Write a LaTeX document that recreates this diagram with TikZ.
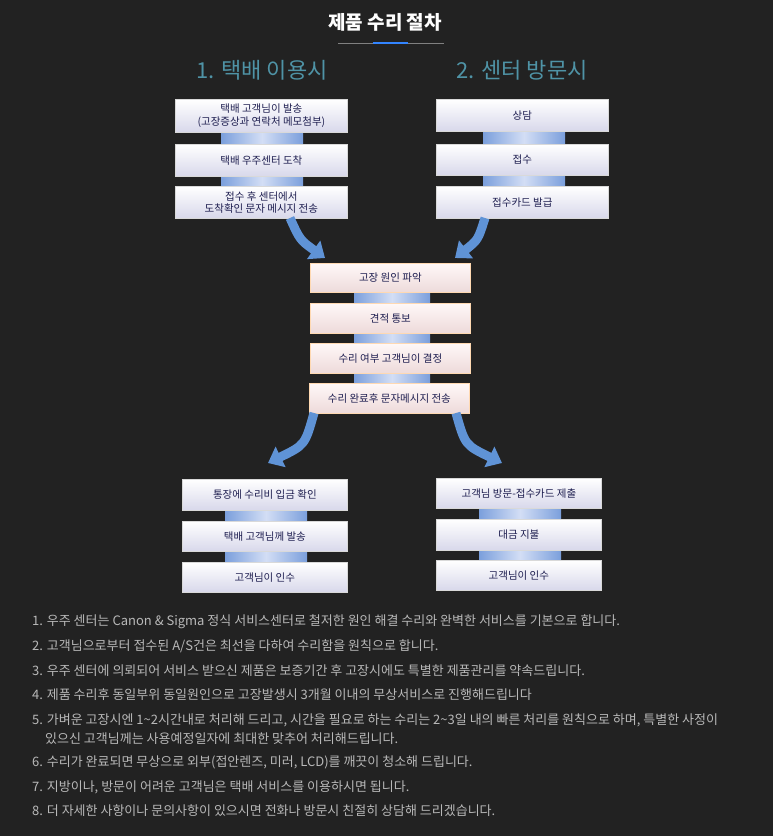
\documentclass[tikz,border=0pt]{standalone}
\usepackage{fontspec}
\setmainfont{Noto Sans CJK KR}
\usetikzlibrary{arrows.meta}
\definecolor{bg}{HTML}{222222}
\definecolor{navy}{HTML}{1E1E50}
\definecolor{sub}{HTML}{4F93A6}
\definecolor{arr}{HTML}{5F93D6}
\definecolor{note}{HTML}{B8B8B8}
\definecolor{linkd}{HTML}{7B9FDC}
\definecolor{linkl}{HTML}{D3DEF5}
\tikzset{
 stepbox/.style={draw=white!85!black, line width=0.8pt, top color=white, bottom color=blue!8!white!92!black, inner sep=0pt, anchor=north west},
 pinkbox/.style={stepbox, top color=white!97!red, bottom color=red!8!white!93!black, draw=orange!30!white},
 lbl/.style={text=navy, font=\fontsize{10.5}{12.5}\selectfont, align=center},
 link/.style={left color=linkd, right color=linkd, middle color=linkl, draw=none},
 bigarrow/.style={arr, line width=9pt, -{Triangle[width=22pt,length=14pt]}},
 note/.style={text=note, font=\fontsize{13}{15}\selectfont, anchor=west, inner sep=0pt}
}
\newcommand{\bx}[6]{\node[#1, minimum width=#4pt-#2pt, minimum height=#5pt-#3pt] (#6) at (#2,#3) {};}
\begin{document}
\begin{tikzpicture}[x=1pt,y=-1pt]
\fill[bg] (0,0) rectangle (773,836);
\node[text=white, font=\bfseries\fontsize{19}{21}\selectfont] (title) at (385,22) {제품 수리 절차};
\draw[gray, line width=1pt] (338,43) -- (444,43);
\draw[blue!60!cyan!80!white, line width=1.8pt] (373,43) -- (408,43);
\node[text=sub, font=\fontsize{22}{24}\selectfont] (s1) at (262,70) {1. 택배 이용시};
\node[text=sub, font=\fontsize{22}{24}\selectfont] (s2) at (522,70) {2. 센터 방문시};
% links
\foreach \xa/\xb/\ya/\yb in {221/303/132/144, 221/303/176/186, 483/565/131/144, 483/565/175/186,
 354/430/292/303, 354/430/333/343, 354/430/373/383, 225/307/510/521, 225/307/551/562, 479/561/508/519, 479/561/550/560}
  \shade[link] (\xa,\ya) rectangle (\xb,\yb);
% left
\bx{stepbox}{175}{99}{347}{132}{a1}
\node[lbl] at (a1.center) {택배 고객님이 발송\\(고장증상과 연락처 메모첨부)};
\bx{stepbox}{175}{144}{347}{176}{a2}
\node[lbl] at (a2.center) {택배 우주센터 도착};
\bx{stepbox}{175}{186}{347}{218}{a3}
\node[lbl] at (a3.center) {접수 후 센터에서\\도착확인 문자 메시지 전송};
% right
\bx{stepbox}{436}{99}{608}{131}{b1}
\node[lbl] at (b1.center) {상담};
\bx{stepbox}{436}{144}{608}{175}{b2}
\node[lbl] at (b2.center) {접수};
\bx{stepbox}{436}{186}{608}{218}{b3}
\node[lbl] at (b3.center) {접수카드 발급};
% center
\bx{pinkbox}{310}{263}{470}{292}{c1}
\node[lbl] at (c1.center) {고장 원인 파악};
\bx{pinkbox}{310}{303}{470}{333}{c2}
\node[lbl] at (c2.center) {견적 통보};
\bx{pinkbox}{310}{343}{470}{373}{c3}
\node[lbl] at (c3.center) {수리 여부 고객님이 결정};
\bx{pinkbox}{309}{383}{469}{413}{c4}
\node[lbl] at (c4.center) {수리 완료후 문자메시지 전송};
% bottom left
\bx{stepbox}{182}{479}{347}{510}{d1}
\node[lbl] at (d1.center) {통장에 수리비 입금 확인};
\bx{stepbox}{182}{521}{347}{551}{d2}
\node[lbl] at (d2.center) {택배 고객님께 발송};
\bx{stepbox}{182}{562}{347}{592}{d3}
\node[lbl] at (d3.center) {고객님이 인수};
% bottom right
\bx{stepbox}{436}{478}{601}{508}{e1}
\node[lbl] at (e1.center) {고객님 방문-접수카드 제출};
\bx{stepbox}{436}{519}{601}{550}{e2}
\node[lbl] at (e2.center) {대금 지불};
\bx{stepbox}{436}{560}{601}{590}{e3}
\node[lbl] at (e3.center) {고객님이 인수};
% arrows
\coordinate (p1) at (290,218); \coordinate (q1) at (325,258);
\coordinate (p2) at (485,218); \coordinate (q2) at (455,258);
\coordinate (p3) at (314,413); \coordinate (q3) at (268,463);
\coordinate (p4) at (456,413); \coordinate (q4) at (502,463);
\draw[bigarrow] (p1) .. controls (300,240) .. (q1);
\draw[bigarrow] (p2) .. controls (478,240) .. (q2);
\draw[bigarrow] (p3) .. controls (305,445) .. (q3);
\draw[bigarrow] (p4) .. controls (465,445) .. (q4);
% notes
\node[note] (n1) at (32,622) {1. 우주 센터는 Canon \& Sigma 정식 서비스센터로 철저한 원인 해결 수리와 완벽한 서비스를 기본으로 합니다.};
\node[note] (n2) at (32,646) {2. 고객님으로부터 접수된 A/S건은 최선을 다하여 수리함을 원칙으로 합니다.};
\node[note] (n3) at (32,671) {3. 우주 센터에 의뢰되어 서비스 받으신 제품은 보증기간 후 고장시에도 특별한 제품관리를 약속드립니다.};
\node[note] (n4) at (32,695) {4. 제품 수리후 동일부위 동일원인으로 고장발생시 3개월 이내의 무상서비스로 진행해드립니다};
\node[note] (n5) at (32,720) {5. 가벼운 고장시엔 1\textasciitilde2시간내로 처리해 드리고, 시간을 필요로 하는 수리는 2\textasciitilde3일 내의 빠른 처리를 원칙으로 하며, 특별한 사정이};
\node[note] (n5b) at (45,739) {있으신 고객님께는 사용예정일자에 최대한 맞추어 처리해드립니다.};
\node[note] (n6) at (32,762) {6. 수리가 완료되면 무상으로 외부(접안렌즈, 미러, LCD)를 깨끗이 청소해 드립니다.};
\node[note] (n7) at (32,787) {7. 지방이나, 방문이 어려운 고객님은 택배 서비스를 이용하시면 됩니다.};
\node[note] (n8) at (32,811) {8. 더 자세한 사항이나 문의사항이 있으시면 전화나 방문시 친절히 상담해 드리겠습니다.};
\end{tikzpicture}
\end{document}
